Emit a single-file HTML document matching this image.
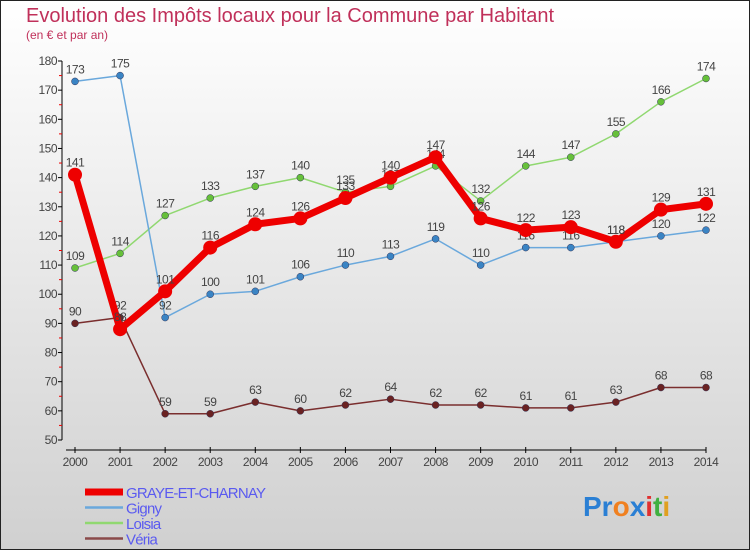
<!DOCTYPE html>
<html><head><meta charset="utf-8"><style>
body{margin:0}
#c{width:750px;height:550px;position:relative;overflow:hidden;font-family:"Liberation Sans",sans-serif;}
</style></head><body>
<div id="c">
<svg id="s" width="750" height="550" xmlns="http://www.w3.org/2000/svg">
<defs><linearGradient id="bg" x1="0" y1="0" x2="0" y2="1"><stop offset="0" stop-color="#ffffff"/><stop offset="1" stop-color="#d0d0d0"/></linearGradient></defs>
<rect x="0.5" y="0.5" width="749" height="549" fill="url(#bg)" stroke="#222"/>
<text x="26" y="22" font-size="20" fill="#c0305a">Evolution des Impôts locaux pour la Commune par Habitant</text>
<text x="26" y="39" font-size="12" fill="#c0305a">(en € et par an)</text>
<g id="axes"></g>
<g id="series"></g>
<g id="legend"></g>
<text x="583" y="516" font-size="28" font-weight="bold"><tspan fill="#2a7fd4">Pr</tspan><tspan fill="#f08020">o</tspan><tspan fill="#2a7fd4">x</tspan><tspan fill="#e03030">i</tspan><tspan fill="#40b040">t</tspan><tspan fill="#e0a020">i</tspan></text>
</svg>
</div>
<script>
const years=[2000,2001,2002,2003,2004,2005,2006,2007,2008,2009,2010,2011,2012,2013,2014];
const graye=[141,88,101,116,124,126,133,140,147,126,122,123,118,129,131];
const gigny=[173,175,92,100,101,106,110,113,119,110,116,116,118,120,122];
const loisia=[109,114,127,133,137,140,135,137,144,132,144,147,155,166,174];
const veria=[90,92,59,59,63,60,62,64,62,62,61,61,63,68,68];
const yTicks=[50,60,70,80,90,100,110,120,130,140,150,160,170,180];
const NS='http://www.w3.org/2000/svg';
const xs=i=>75+i*(706-75)/14;
const ys=v=>440-(v-50)*(440-61)/130;
function mk(tag,attrs,parent,txt){const e=document.createElementNS(NS,tag);for(const k in attrs)e.setAttribute(k,attrs[k]);if(txt!==undefined)e.textContent=txt;parent.appendChild(e);return e;}
const ax=document.getElementById('axes');
let yl=mk('line',{x1:62,y1:ys(180),x2:62,y2:ys(50),stroke:'#000'},ax);


yTicks.forEach(t=>{
  mk('line',{x1:58,x2:62,y1:ys(t),y2:ys(t),stroke:'#000'},ax);
  if(t<180)mk('line',{x1:59,x2:62,y1:ys(t+5),y2:ys(t+5),stroke:'#e00'},ax);
  let l=mk('text',{x:57,y:ys(t)+4,'font-size':12,fill:'#444','text-anchor':'end','letter-spacing':'-0.5'},ax,t);
  
  
});
let xl=mk('line',{x1:66,y1:450,x2:706,y2:450,stroke:'#000'},ax);


years.forEach((y,i)=>{
  mk('line',{x1:xs(i),x2:xs(i),y1:447,y2:453,stroke:'#000'},ax);
  let l=mk('text',{x:xs(i),y:466,'font-size':12,fill:'#444','text-anchor':'middle','letter-spacing':'-0.5'},ax,y);
  
  
});
const sg=document.getElementById('series');
const defs=[
 {name:'veria',data:veria,color:'#7a2e2e',dot:'#6a2222',w:1.5,r:3.5},
 {name:'loisia',data:loisia,color:'#90d870',dot:'#66c03a',w:1.5,r:3.5},
 {name:'gigny',data:gigny,color:'#6aa8dc',dot:'#3a84c4',w:1.5,r:3.5},
 {name:'graye',data:graye,color:'#ee0000',dot:'#ee0000',w:7,r:7}
];
defs.forEach(d=>{
  const g=mk('g',{},sg);
  
  
  const p=mk('polyline',{points:d.data.map((v,i)=>xs(i)+','+ys(v)).join(' '),fill:'none',stroke:d.color,'stroke-width':d.w,'stroke-linejoin':'round'},g);
  
  
  d.data.forEach((v,i)=>{
    const c=mk('circle',{cx:xs(i),cy:ys(v),r:d.r,fill:d.dot,stroke:d.name==='graye'?'none':'#335',"stroke-width":0.5},g);
    
    
    const t=mk('text',{x:xs(i),y:ys(v)-8,'font-size':12,fill:'#444','text-anchor':'middle','letter-spacing':'-0.5'},g,v);
    
    
  });
});
const lg=document.getElementById('legend');
const leg=[['GRAYE-ET-CHARNAY','#ee0000',7],['Gigny','#6aa8dc',2.5],['Loisia','#90d870',2.5],['Véria','#8a4a4a',2.5]];
leg.forEach((e,i)=>{
  const y=492+i*15.5;
  const g=mk('g',{},lg);
  
  
  mk('line',{x1:85,x2:123,y1:y,y2:y,stroke:e[1],'stroke-width':e[2]},g);
  mk('text',{x:126,y:y+6,'font-size':15,fill:'#5a5af0','letter-spacing':'-0.8'},g,e[0]);
});
</script>
</body></html>
